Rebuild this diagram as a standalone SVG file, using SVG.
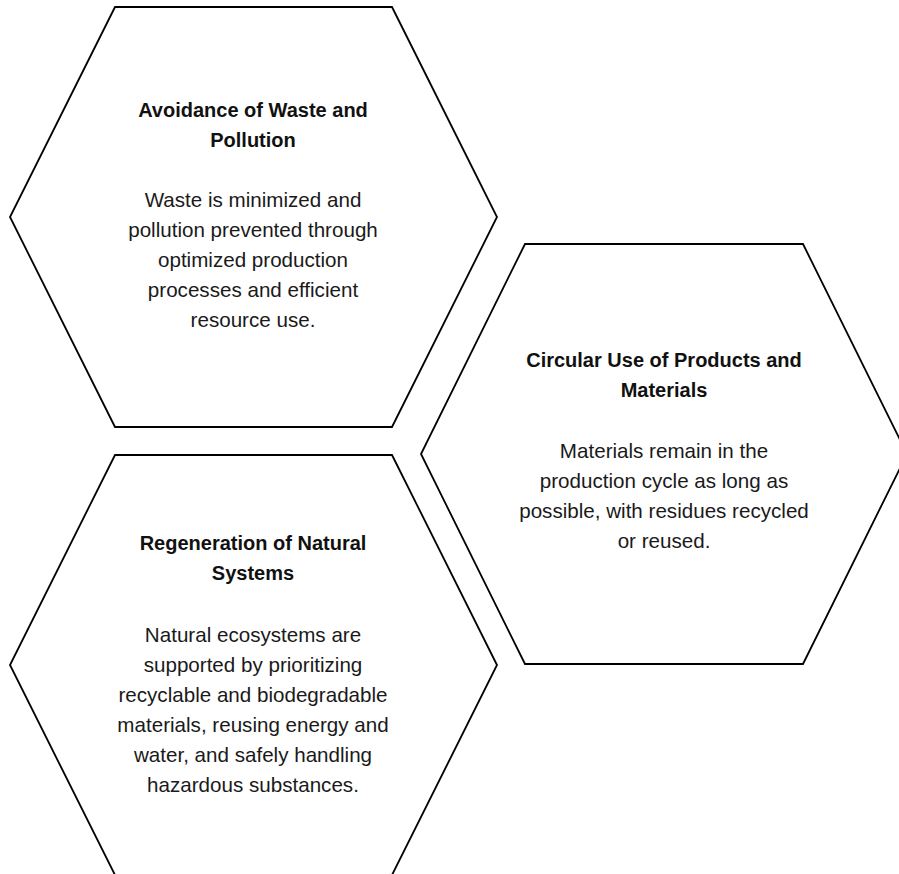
<svg xmlns="http://www.w3.org/2000/svg" width="899" height="874" viewBox="0 0 899 874">
<style>
.hex{fill:#ffffff;stroke:#000000;stroke-width:1.8;stroke-linejoin:miter}
.t{font-family:"Liberation Sans",Arial,sans-serif;font-size:20px;font-weight:bold;fill:#111111;text-anchor:middle}
.b{font-family:"Liberation Sans",Arial,sans-serif;font-size:20.6px;fill:#1a1a1a;text-anchor:middle}
</style>
<rect width="899" height="874" fill="#ffffff"/>
<g id="node-avoidance">
<polygon class="hex" points="115,7 392,7 497,217 392,427 115,427 10,217"/>
<text class="t" x="253" y="117">Avoidance of Waste and</text>
<text class="t" x="253" y="147">Pollution</text>
<text class="b" x="253" y="207">Waste is minimized and</text>
<text class="b" x="253" y="237">pollution prevented through</text>
<text class="b" x="253" y="267">optimized production</text>
<text class="b" x="253" y="297">processes and efficient</text>
<text class="b" x="253" y="327">resource use.</text>
</g>
<g id="node-circular">
<polygon class="hex" points="525,244 803,244 907,454 803,664 525,664 421,454"/>
<text class="t" x="664" y="367">Circular Use of Products and</text>
<text class="t" x="664" y="397">Materials</text>
<text class="b" x="664" y="458">Materials remain in the</text>
<text class="b" x="664" y="488">production cycle as long as</text>
<text class="b" x="664" y="518">possible, with residues recycled</text>
<text class="b" x="664" y="548">or reused.</text>
</g>
<g id="node-regeneration">
<polygon class="hex" points="115,455 392,455 497,665 392,875 115,875 10,665"/>
<text class="t" x="253" y="550">Regeneration of Natural</text>
<text class="t" x="253" y="580">Systems</text>
<text class="b" x="253" y="642">Natural ecosystems are</text>
<text class="b" x="253" y="672">supported by prioritizing</text>
<text class="b" x="253" y="702">recyclable and biodegradable</text>
<text class="b" x="253" y="732">materials, reusing energy and</text>
<text class="b" x="253" y="762">water, and safely handling</text>
<text class="b" x="253" y="792">hazardous substances.</text>
</g>
<g id="connectors"></g>
</svg>
